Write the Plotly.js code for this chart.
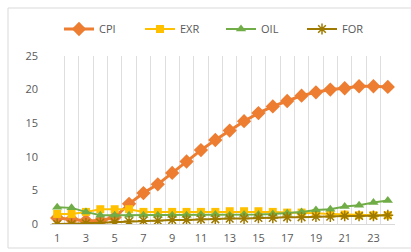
<!DOCTYPE html>
<html><head><meta charset="utf-8">
<script src="https://cdn.plot.ly/plotly-3.0.1.min.js"></script>
<style>html,body{margin:0;padding:0;background:#fff}#c{width:411px;height:252px}</style>
</head><body><div id="c"></div>
<script>
const periods = [1,2,3,4,5,6,7,8,9,10,11,12,13,14,15,16,17,18,19,20,21,22,23,24];
const tickLabels = ['1','3','5','7','9','11','13','15','17','19','21','23'];
const tickPositions = [1,3,5,7,9,11,13,15,17,19,21,23];
const cpi = [0.9,0.7,0.5,0.5,1.0,3.0,4.6,5.9,7.6,9.3,11.0,12.5,13.9,15.3,16.5,17.5,18.3,19.1,19.6,20.0,20.2,20.5,20.5,20.4];
const exr = [1.5,1.5,1.8,2.2,2.2,2.2,1.8,1.8,1.8,1.8,1.8,1.8,1.9,1.9,1.9,1.8,1.7,1.7,1.6,1.5,1.4,1.3,1.3,1.3];
const oil = [2.5,2.4,1.8,1.3,1.3,1.3,1.3,1.3,1.3,1.3,1.4,1.4,1.3,1.4,1.4,1.5,1.6,1.8,2.1,2.2,2.6,2.8,3.2,3.5];
const forv = [0.0,0.0,0.1,0.2,0.3,0.4,0.5,0.5,0.6,0.6,0.7,0.7,0.8,0.8,0.9,0.9,1.0,1.0,1.1,1.1,1.2,1.2,1.2,1.3];
const gridPos = periods.map(p => p - 0.5).concat([24.5]);

const traces = [
  {name:'CPI', x:periods, y:cpi, mode:'lines+markers', line:{color:'#ED7D31', width:3},
   marker:{symbol:'diamond', size:11, color:'#ED7D31'}},
  {name:'EXR', x:periods, y:exr, mode:'lines+markers', line:{color:'#FFC000', width:2},
   marker:{symbol:'square', size:8, color:'#FFC000'}},
  {name:'OIL', x:periods, y:oil, mode:'lines+markers', line:{color:'#70AD47', width:2},
   marker:{symbol:'triangle-up', size:9, color:'#70AD47'}},
  {name:'FOR', x:periods, y:forv, mode:'lines+markers', line:{color:'#9E7A00', width:2},
   marker:{symbol:'asterisk-open', size:9, color:'#9E7A00', line:{color:'#9E7A00', width:1.5}}}
];
const layout = {
  width:411, height:252,
  margin:{l:50, r:16, t:56, b:28, autoexpand:false},
  paper_bgcolor:'#fff', plot_bgcolor:'#fff',
  font:{family:'Open Sans, sans-serif', size:11, color:'#595959'},
  showlegend:true,
  legend:{orientation:'h', xref:'container', yref:'container', x:221/411, xanchor:'center',
          y:1-29/252, yanchor:'middle',
          font:{size:11, color:'#595959'}, entrywidth:36, entrywidthmode:'pixels', tracegroupgap:0},
  xaxis:{range:[0.5,24.5], tickmode:'array', tickvals:tickPositions, ticktext:tickLabels,
         showgrid:false, zeroline:false, showline:true, linecolor:'#d9d9d9', linewidth:1,
         ticks:'', ticklabelstandoff:4, tickfont:{size:11, color:'#595959'},
         minor:{tickmode:'array', tickvals:gridPos, showgrid:true, gridcolor:'#dedede', gridwidth:1, ticks:''}},
  yaxis:{range:[0,25], tickmode:'linear', tick0:0, dtick:5, showgrid:false, zeroline:false,
         showline:false, ticks:'', ticklabelstandoff:11, tickfont:{size:11, color:'#595959'}},
  shapes:[{type:'rect', xref:'paper', yref:'paper',
           x0:(8-50)/345, x1:(420-50)/345, y0:(224-248)/168, y1:(224-8)/168,
           line:{color:'#d9d9d9', width:1}, layer:'below'}]
};
Plotly.newPlot('c', traces, layout, {displayModeBar:false, staticPlot:true});
</script></body></html>
